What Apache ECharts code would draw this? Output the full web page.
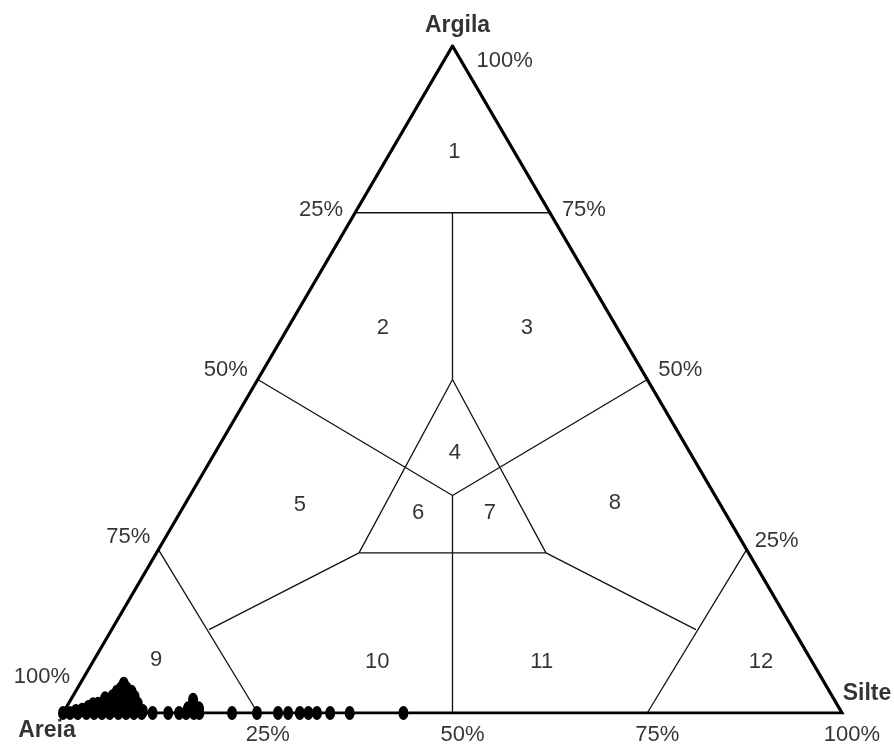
<!DOCTYPE html>
<html><head><meta charset="utf-8">
<script src="https://cdn.jsdelivr.net/npm/echarts@6/dist/echarts.min.js"></script>
<style>html,body{margin:0;padding:0;background:#fff}#c{width:894px;height:747px}</style>
</head><body><div id="c"></div>
<script>
// ---- data: [Areia, Silte, Argila] in % ----
const vertexNames = ['Areia', 'Silte', 'Argila'];
const amostras = [
  [100,0,0],[99.1,0.9,0],[98.1,1.9,0],[97.0,3.0,0],[96.0,4.0,0],[95.0,5.0,0],[94.0,6.0,0],
  [92.9,7.1,0],[91.9,8.1,0],[90.9,9.1,0],[89.9,10.1,0],[88.5,11.5,0],[86.5,13.5,0],[85.1,14.9,0],
  [84.2,15.8,0],[83.2,16.8,0],[82.5,17.5,0],[78.3,21.7,0],[75.1,24.9,0],[72.4,27.6,0],[71.1,28.9,0],
  [69.6,30.4,0],[68.5,31.5,0],[67.4,32.6,0],[65.7,34.3,0],[63.2,36.8,0],[56.3,43.7,0],
  [98.2,1.5,0.3],[97.3,2.2,0.5],[96.3,2.8,0.9],[95.5,3.2,1.3],[94.8,3.8,1.4],[94.9,4.4,0.7],
  [93.5,4.3,2.2],[93.6,5.2,1.2],[92.4,5.1,2.5],[92.7,5.8,1.5],[91.5,5.3,3.2],[91.9,6.0,2.1],
  [92.2,6.9,0.9],[90.7,5.6,3.7],[90.0,5.6,4.4],[90.0,6.3,3.7],[90.6,6.3,3.1],[91.2,6.9,1.9],
  [90.5,7.6,1.9],[89.6,7.2,3.2],[91.2,7.9,0.9],[89.6,8.0,2.4],[89.7,8.9,1.4],[90.3,9.0,0.7],
  [89.6,10.1,0.3],[83.6,15.7,0.7],[82.3,15.7,2.0],[82.8,16.2,1.0],[82.2,17.1,0.7]
];
// classification boundaries (polylines in [Areia, Silte, Argila] %)
const limites = [
  [[25,0,75],[0,25,75]],
  [[12.5,12.5,75],[25,25,50]],
  [[50,26,24],[26,50,24],[25,25,50],[50,26,24]],
  [[50,0,50],[33.7,33.7,32.6],[0,50,50]],
  [[33.7,33.7,32.6],[50,50,0]],
  [[75.5,0,24.5],[75,25,0]],
  [[0,75.5,24.5],[25,75,0]],
  [[50,26,24],[75,12.5,12.5]],
  [[26,50,24],[12.5,75,12.5]]
];
const classes = ['1','2','3','4','5','6','7','8','9','10','11','12'];
const classPos = [
  [7.7,8.2,84.1],[30.1,12.2,57.7],[11.6,30.7,57.7],[30.2,30.8,39.0],[54.0,14.8,31.2],[39.4,30.6,30.0],
  [30.2,39.8,30.0],[13.4,55.1,31.5],[84.1,8.0,7.9],[55.8,36.5,7.7],[34.7,57.6,7.7],[6.6,85.8,7.6]
];
// tick labels
const areiaTicks = ['100%','75%','50%','25%'];   // left edge
const areiaTickVals = [100,75,50,25];
const argilaTicks = ['100%','75%','50%','25%'];  // right edge
const argilaTickVals = [100,75,50,25];
const silteTicks = ['25%','50%','75%','100%'];   // bottom edge
const silteTickVals = [25,50,75,100];

// ---- ternary -> cartesian ----
function toXY(p){ const s=p[0],t=p[1],c=p[2],n=s+t+c; return [(t+c/2)/n, c/n]; }

const FONT = "'Liberation Sans', Arial, sans-serif";
const leftOff = [[7,-36],[-10,-9],[-10,-9.5],[-12,-3]];
const rightOff = [[24,15],[12,-3],[11,-9.5],[10,-5]];

function labelSeries(items, common){
  return {
    type:'scatter', silent:true, symbolSize:1, z:10, animation:false,
    itemStyle:{color:'rgba(0,0,0,0)'},
    label:Object.assign({show:true, position:'inside', color:'#000', fontFamily:FONT, fontSize:22, verticalAlign:'middle'}, common),
    data: items.map(it => ({value: it.value, label: Object.assign({show:true, formatter: () => it.text}, it.label || {})}))
  };
}

const series = [];
// boundaries
limites.forEach(l => series.push({
  type:'line', data:l.map(toXY), symbol:'none', silent:true, animation:false,
  lineStyle:{color:'#111', width:1.3}, z:2
}));
// outer triangle
series.push({
  type:'line', data:[[100,0,0],[0,100,0],[0,0,100],[100,0,0]].map(toXY), symbol:'none', silent:true, animation:false,
  lineStyle:{color:'#000', width:3.2, join:'miter'}, z:3
});
// samples
series.push({
  type:'scatter', data:amostras.map(toXY), symbol:'circle', symbolSize:[10,14], animation:false,
  itemStyle:{color:'#000', opacity:1}, z:4
});
// class numbers
series.push(labelSeries(classes.map((c,i)=>({value:toXY(classPos[i]), text:c})), {align:'center'}));
// left ticks (Areia)
series.push(labelSeries(areiaTicks.map((t,i)=>({value:toXY([areiaTickVals[i],0,100-areiaTickVals[i]]), text:t, label:{offset:leftOff[i]}})), {align:'right'}));
// right ticks (Argila)
series.push(labelSeries(argilaTicks.map((t,i)=>({value:toXY([0,100-argilaTickVals[i],argilaTickVals[i]]), text:t, label:{offset:rightOff[i]}})), {align:'left'}));
// bottom ticks (Silte)
series.push(labelSeries(silteTicks.map((t,i)=>({value:toXY([100-silteTickVals[i],silteTickVals[i],0]), text:t, label:{offset:[10,22]}})), {align:'center'}));
// vertex names
series.push(labelSeries([
  {value:toXY([100,0,0]), text:vertexNames[0], label:{offset:[-16,18]}},
  {value:toXY([0,100,0]), text:vertexNames[1], label:{offset:[25,-19]}},
  {value:toXY([0,0,100]), text:vertexNames[2], label:{offset:[5,-20]}}
], {align:'center', fontWeight:'bold', fontSize:23}));

const chart = echarts.init(document.getElementById('c'));
chart.setOption({
  animation:false,
  backgroundColor:'#fff',
  grid:{left:63, top:46, width:779, height:667},
  xAxis:{type:'value', min:0, max:1, show:false},
  yAxis:{type:'value', min:0, max:1, show:false},
  series: series
});
</script></body></html>
